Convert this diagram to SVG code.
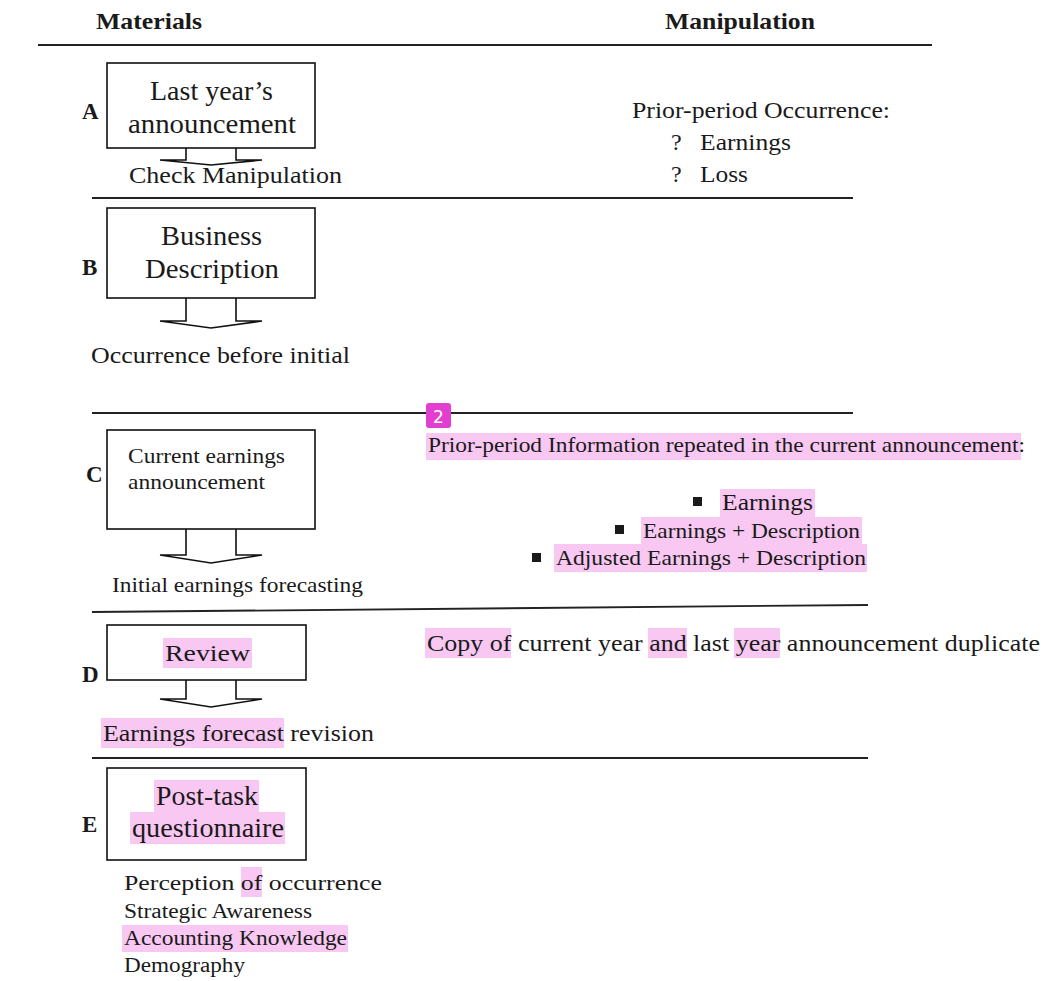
<svg xmlns="http://www.w3.org/2000/svg" width="1044" height="981" viewBox="0 0 1044 981">
<style>
text{font-family:"Liberation Serif","Times New Roman",serif;fill:#1a1a1a}
.hd{font-weight:bold;font-size:23px}
.lt{font-weight:bold;font-size:23px}
.bx{fill:#fff;stroke:#111;stroke-width:1.6}
.ar{fill:#fff;stroke:#111;stroke-width:1.6;stroke-linejoin:miter}
.rule{stroke:#222;stroke-width:1.8}
.hl{fill:#f8c8f3}
.t27{font-size:27px}
.t24{font-size:24px}
.t22{font-size:22px}
.t20{font-size:20px}
.mid{text-anchor:middle}
</style>
<g id="header">
<text class="hd" x="96" y="29" textLength="106" lengthAdjust="spacingAndGlyphs">Materials</text>
<text class="hd" x="665" y="29" textLength="150" lengthAdjust="spacingAndGlyphs">Manipulation</text>
<line class="rule" x1="38" y1="45" x2="932" y2="45"/>
</g>
<g id="rules">
<line class="rule" x1="92" y1="198" x2="853" y2="198"/>
<line class="rule" x1="92" y1="413" x2="853" y2="413"/>
<line class="rule" x1="92" y1="612" x2="868" y2="605"/>
<line class="rule" x1="92" y1="758" x2="868" y2="758"/>
</g>
<g id="connectors">
<path class="ar" d="M186,148 V160 H160 L211,165 L262,160 H236 V148"/>
<path class="ar" d="M186,298 V321 H160 L211,328 L262,321 H236 V298"/>
<path class="ar" d="M186,529 V555 H160 L211,563 L262,555 H236 V529"/>
<path class="ar" d="M186,680 V699 H160 L211,707 L262,699 H236 V680"/>
</g>
<g id="nodeA">
<rect class="bx" x="107" y="63" width="208" height="85"/>
<text class="t27" x="150" y="100" textLength="123" lengthAdjust="spacingAndGlyphs">Last year’s</text>
<text class="t27" x="128" y="133" textLength="168" lengthAdjust="spacingAndGlyphs">announcement</text>
<text class="lt" x="82" y="119">A</text>
<text class="t24" x="129" y="183" textLength="213" lengthAdjust="spacingAndGlyphs">Check Manipulation</text>
</g>
<g id="manipA">
<text class="t24" x="632" y="118" textLength="258" lengthAdjust="spacingAndGlyphs">Prior-period Occurrence:</text>
<text class="t24" x="671" y="150">?</text>
<text class="t24" x="700" y="150" textLength="91" lengthAdjust="spacingAndGlyphs">Earnings</text>
<text class="t24" x="671" y="182">?</text>
<text class="t24" x="700" y="182" textLength="48" lengthAdjust="spacingAndGlyphs">Loss</text>
</g>
<g id="nodeB">
<rect class="bx" x="107" y="208" width="208" height="90"/>
<text class="t27" x="161" y="245" textLength="101" lengthAdjust="spacingAndGlyphs">Business</text>
<text class="t27" x="145" y="278" textLength="134" lengthAdjust="spacingAndGlyphs">Description</text>
<text class="lt" x="82" y="275">B</text>
<text class="t24" x="91" y="363" textLength="259" lengthAdjust="spacingAndGlyphs">Occurrence before initial</text>
</g>
<g id="nodeC">
<rect class="bx" x="107" y="430" width="208" height="99"/>
<text class="t22" x="128" y="463" textLength="157" lengthAdjust="spacingAndGlyphs">Current earnings</text>
<text class="t22" x="128" y="489" textLength="137" lengthAdjust="spacingAndGlyphs">announcement</text>
<text class="lt" x="86" y="482">C</text>
<text class="t22" x="112" y="592" textLength="251" lengthAdjust="spacingAndGlyphs">Initial earnings forecasting</text>
</g>
<g id="manipC">
<rect class="hl" x="426" y="433" width="595" height="27"/>
<rect class="hl" x="720" y="489" width="95" height="29"/>
<rect class="hl" x="641" y="517" width="221" height="28"/>
<rect class="hl" x="554" y="544" width="313" height="28"/>
<text class="t22" x="428" y="452" textLength="597" lengthAdjust="spacingAndGlyphs">Prior-period Information repeated in the current announcement:</text>
<rect x="693" y="497" width="9" height="9" fill="#1a1a1a"/>
<text class="t24" x="722" y="510" textLength="91" lengthAdjust="spacingAndGlyphs">Earnings</text>
<rect x="615" y="525" width="9" height="9" fill="#1a1a1a"/>
<text class="t22" x="643" y="538" textLength="217" lengthAdjust="spacingAndGlyphs">Earnings + Description</text>
<rect x="532" y="553" width="9" height="9" fill="#1a1a1a"/>
<text class="t22" x="556" y="565" textLength="310" lengthAdjust="spacingAndGlyphs">Adjusted Earnings + Description</text>
</g>
<g id="badge">
<rect x="426" y="403" width="25" height="25" rx="3" fill="#e23fd0"/>
<text x="438.5" y="423" class="mid" style="font-family:'DejaVu Sans',sans-serif;font-size:17px;fill:#fff">2</text>
</g>
<g id="nodeD">
<rect class="bx" x="107" y="625" width="199" height="55"/>
<rect class="hl" x="163" y="638" width="89" height="30"/>
<text class="t24" x="165" y="661" textLength="85" lengthAdjust="spacingAndGlyphs">Review</text>
<text class="lt" x="82" y="682">D</text>
<rect class="hl" x="101" y="718" width="183" height="30"/>
<text class="t24" x="103" y="741" textLength="271" lengthAdjust="spacingAndGlyphs">Earnings forecast revision</text>
</g>
<g id="manipD">
<rect class="hl" x="425" y="628" width="86" height="30"/>
<rect class="hl" x="648" y="628" width="39" height="30"/>
<rect class="hl" x="734" y="628" width="46" height="30"/>
<text class="t24" x="427" y="651" textLength="613" lengthAdjust="spacingAndGlyphs">Copy of current year and last year announcement duplicate</text>
</g>
<g id="nodeE">
<rect class="bx" x="107" y="768" width="199" height="92"/>
<rect class="hl" x="154" y="780" width="105" height="32"/>
<rect class="hl" x="130" y="812" width="155" height="32"/>
<text class="t27" x="156" y="805" textLength="102" lengthAdjust="spacingAndGlyphs">Post-task</text>
<text class="t27" x="132" y="837" textLength="152" lengthAdjust="spacingAndGlyphs">questionnaire</text>
<text class="lt" x="82" y="832">E</text>
<rect class="hl" x="241" y="867" width="21" height="30"/>
<text class="t22" x="124" y="890" textLength="258" lengthAdjust="spacingAndGlyphs">Perception of occurrence</text>
<text class="t20" x="124" y="918" textLength="188" lengthAdjust="spacingAndGlyphs">Strategic Awareness</text>
<rect class="hl" x="122" y="925" width="226" height="27"/>
<text class="t20" x="124" y="945" textLength="223" lengthAdjust="spacingAndGlyphs">Accounting Knowledge</text>
<text class="t20" x="124" y="972" textLength="121" lengthAdjust="spacingAndGlyphs">Demography</text>
</g>
</svg>
